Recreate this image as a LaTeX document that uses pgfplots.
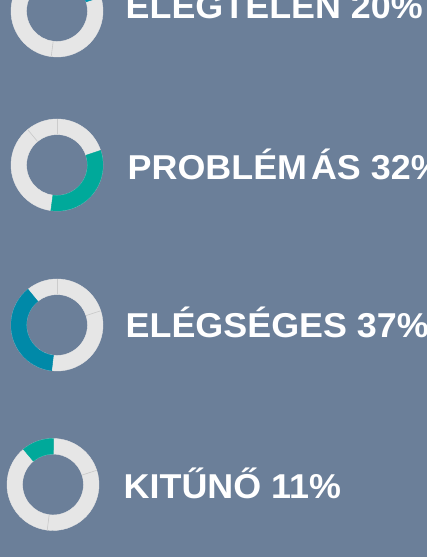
\documentclass[border=0pt]{standalone}
\usepackage{fontspec}
\setmainfont{Liberation Sans}
\newfontfamily\labfont[FakeStretch=1.04]{Liberation Sans}
\usepackage{pgfplots}
\usepackage{pgfplotstable}
\pgfplotsset{compat=1.18}
\definecolor{bg}{HTML}{6B7F99}
\definecolor{ringgray}{HTML}{E6E6E6}
\definecolor{sepgray}{HTML}{C9C9C9}
\definecolor{tealA}{HTML}{00A99A}
\definecolor{blueB}{HTML}{0089A8}
\definecolor{blueC}{HTML}{0094AE}

% share of each grade (%), with the cumulative start of its segment
\pgfplotstableread{
x y idx start pct
0 0 1 0  20
0 0 2 20 32
0 0 3 52 37
0 0 4 89 11
}\segments

\pgfdeclareplotmark{nomark}{}

\pgfplotsset{
  donut axis/.style={anchor=center, width=92pt, height=92pt, scale only axis,
    xmin=-1, xmax=1, ymin=-1, ymax=1, hide axis, clip=false},
  ring base/.style={scatter, only marks, mark=nomark, point meta=\thisrow{idx},
    visualization depends on={\thisrow{start}\as\segstart},
    visualization depends on={\thisrow{pct}\as\segpct},
    visualization depends on={\thisrow{idx}\as\segidx},
    scatter/@post marker code/.code={}},
  ring gray/.style={ring base,
    scatter/@pre marker code/.code={%
      \pgfmathsetmacro\aA{90-3.6*\segstart}%
      \pgfmathsetmacro\aB{90-3.6*(\segstart+\segpct)}%
      \fill[ringgray] (\aA:46pt) arc[start angle=\aA, end angle=\aB, radius=46pt]
         -- (\aB:30.5pt) arc[start angle=\aB, end angle=\aA, radius=30.5pt] -- cycle;
      \draw[sepgray, line width=0.6pt] (\aA:30.5pt) -- (\aA:46pt);
    }},
  ring highlight/.style={ring base,
    scatter/@pre marker code/.code={%
      \pgfmathtruncatemacro\si{\segidx}%
      \ifnum\si=\hlidx\relax
        \pgfmathsetmacro\aA{90-3.6*\segstart+0.5}%
        \pgfmathsetmacro\aB{90-3.6*(\segstart+\segpct)-0.5}%
        \fill[\hlcolor] (\aA:46pt) arc[start angle=\aA, end angle=\aB, radius=46pt]
           -- (\aB:30.5pt) arc[start angle=\aB, end angle=\aA, radius=30.5pt] -- cycle;
      \fi
    }},
}
\tikzset{lab/.style={anchor=base west, inner sep=0pt, text=white,
  font=\labfont\bfseries\fontsize{34.5}{40}\selectfont}}

\begin{document}
\begin{tikzpicture}
\useasboundingbox (0,0) rectangle (427pt,557pt);
\fill[bg] (0,0) rectangle (427pt,557pt);
\clip (0,0) rectangle (427pt,557pt);

\def\hlidx{1}\def\hlcolor{blueC}
\begin{axis}[donut axis, at={(57pt,546pt)}]
\addplot[ring gray] table {\segments};
\addplot[ring highlight] table {\segments};
\end{axis}
\node[lab] at (125.5pt,538pt) {ELÉGTELEN 20\%};

\def\hlidx{2}\def\hlcolor{tealA}
\begin{axis}[donut axis, at={(57pt,392pt)}]
\addplot[ring gray] table {\segments};
\addplot[ring highlight] table {\segments};
\end{axis}
\node[lab] at (127.5pt,377.7pt) {PROBLÉM\kern4ptÁS 32\%};

\def\hlidx{3}\def\hlcolor{blueB}
\begin{axis}[donut axis, at={(57pt,232pt)}]
\addplot[ring gray] table {\segments};
\addplot[ring highlight] table {\segments};
\end{axis}
\node[lab] at (125.5pt,219pt) {ELÉGSÉGES 37\%};

\def\hlidx{4}\def\hlcolor{tealA}
\begin{axis}[donut axis, at={(53pt,72.5pt)}]
\addplot[ring gray] table {\segments};
\addplot[ring highlight] table {\segments};
\end{axis}
\node[lab] at (123.5pt,58pt) {KITŰNŐ 11\%};
\end{tikzpicture}
\end{document}
